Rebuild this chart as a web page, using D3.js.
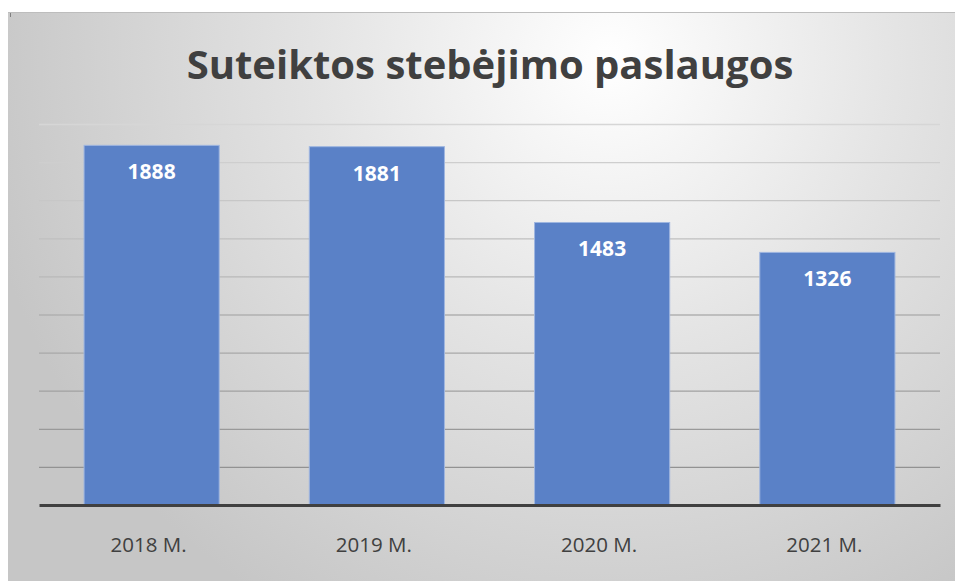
<!DOCTYPE html>
<html>
<head>
<meta charset="utf-8">
<script src="https://cdn.jsdelivr.net/npm/d3@7"></script>
<style>
  body { margin: 0; background: #fff; }
  svg text { font-family: "Open Sans", "Noto Sans", sans-serif; }
</style>
</head>
<body>
<div class="bar-chart"></div>
<script>
var categories = ["2018 M.", "2019 M.", "2020 M.", "2021 M."];
var values = [1888, 1881, 1483, 1326];
var yTicks = [200, 400, 600, 800, 1000, 1200, 1400, 1600, 1800, 2000];
var title = "Suteiktos stebėjimo paslaugos";

var svgWidth = 955;
var svgHeight = 581;
var plot = { left: 39, right: 940, top: 124, bottom: 505 };

var svg = d3.select('.bar-chart')
  .append('svg')
  .attr('width', svgWidth)
  .attr('height', svgHeight);

// background gradient like the office chart style
var defs = svg.append('defs');
var grad = defs.append('radialGradient')
  .attr('id', 'bg')
  .attr('gradientUnits', 'userSpaceOnUse')
  .attr('cx', 610).attr('cy', 60).attr('r', 640);
grad.append('stop').attr('offset', '0%').attr('stop-color', '#ffffff');
grad.append('stop').attr('offset', '45%').attr('stop-color', '#e4e4e4');
grad.append('stop').attr('offset', '100%').attr('stop-color', '#c6c6c6');

svg.append('rect')
  .attr('x', 8).attr('y', 12)
  .attr('width', svgWidth - 8).attr('height', svgHeight - 12)
  .attr('fill', 'url(#bg)');
svg.append('line')
  .attr('x1', 8).attr('x2', svgWidth).attr('y1', 12.5).attr('y2', 12.5)
  .attr('stroke', '#bdbdbd');
svg.append('line')
  .attr('x1', 10.5).attr('x2', 10.5).attr('y1', 13).attr('y2', 17)
  .attr('stroke', '#808080');

var xScale = d3.scaleBand()
  .domain(categories)
  .range([plot.left, plot.right])
  .paddingInner(0.4)
  .paddingOuter(0.2);

var yScale = d3.scaleLinear()
  .domain([0, 2000])
  .range([plot.bottom, plot.top]);

// gridlines get darker towards the bottom
var gridColor = d3.scaleLinear()
  .domain([plot.top, plot.bottom])
  .range(['#d6d6d6', '#8a8a8a']);

var yAxis = d3.axisLeft(yScale)
  .tickValues(yTicks)
  .tickSize(-(plot.right - plot.left))
  .tickFormat('');

var gy = svg.append('g')
  .attr('class', 'y axis')
  .attr('transform', 'translate(' + plot.left + ',0)')
  .call(yAxis);
gy.select('.domain').remove();
gy.selectAll('.tick line')
  .attr('stroke', function (d) { return gridColor(yScale(d)); })
  .attr('stroke-width', 1.3);

// bars
svg.selectAll('rect.bar')
  .data(values)
  .enter()
  .append('rect')
  .attr('class', 'bar')
  .attr('x', function (d, i) { return xScale(categories[i]); })
  .attr('y', function (d) { return yScale(d); })
  .attr('width', xScale.bandwidth())
  .attr('height', function (d) { return yScale(0) - yScale(d); })
  .attr('fill', '#5a81c7')
  .attr('stroke', '#9fb6e0')
  .attr('stroke-width', 1);

// value labels
svg.selectAll('text.value')
  .data(values)
  .enter()
  .append('text')
  .attr('class', 'value')
  .attr('x', function (d, i) { return xScale(categories[i]) + xScale.bandwidth() / 2; })
  .attr('y', function (d) { return yScale(d) + 34; })
  .attr('text-anchor', 'middle')
  .attr('fill', '#ffffff')
  .attr('font-weight', 'bold')
  .attr('font-size', 21)
  .text(function (d) { return d; });

// x axis
var xAxis = d3.axisBottom(xScale).tickSize(0).tickPadding(32);
var gx = svg.append('g')
  .attr('class', 'x axis')
  .attr('transform', 'translate(0,' + plot.bottom + ')')
  .call(xAxis);
gx.select('.domain')
  .attr('stroke', '#404040')
  .attr('stroke-width', 3);
gx.selectAll('.tick text')
  .attr('fill', '#404040')
  .attr('font-size', 20.5)
  .attr('font-family', '"Open Sans", sans-serif')
  .attr('dx', -3);

// title
svg.append('text')
  .attr('x', 490)
  .attr('y', 79)
  .attr('text-anchor', 'middle')
  .attr('fill', '#404040')
  .attr('font-weight', 'bold')
  .attr('font-size', 40)
  .text(title);
</script>
</body>
</html>
